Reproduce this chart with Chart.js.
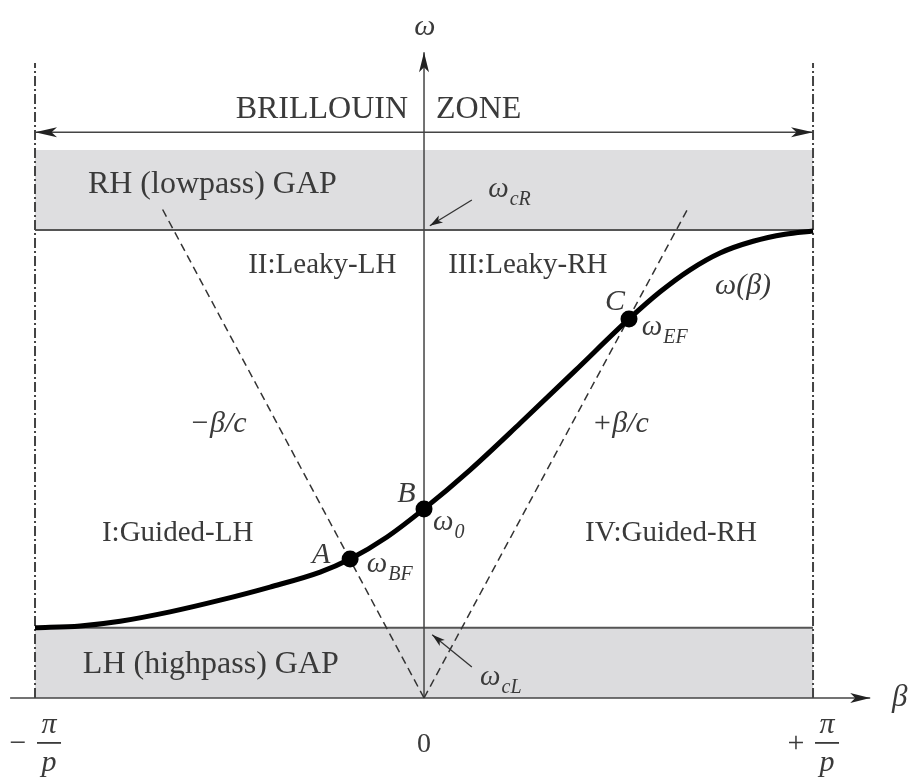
<!DOCTYPE html>
<html><head><meta charset="utf-8">
<script src="https://cdn.jsdelivr.net/npm/chart.js@4"></script>
<style>html,body{margin:0;padding:0;background:#fff}#wrap{width:913px;height:781px;position:relative}</style>
</head><body><div id="wrap"><canvas id="c" width="913" height="781"></canvas></div>
<script>
// beta in units of pi/p, omega normalised so that omega_cR = 1
const zoneEdges = [-1, 1];
const omegaCL = 0.15;
const omegaCR = 1.0;
const omegaGapTop = 1.171;
const curveBeta  = [-1, -0.884, -0.781, -0.653, -0.524, -0.396, -0.267, -0.19, -0.095, 0, 0.118, 0.247, 0.388, 0.527, 0.607, 0.684, 0.761, 0.846, 0.928, 1];
const curveOmega = [0.150, 0.154, 0.164, 0.184, 0.209, 0.237, 0.269, 0.297, 0.344, 0.404, 0.487, 0.587, 0.699, 0.810, 0.868, 0.915, 0.951, 0.976, 0.991, 0.998];
const pointNames = ['A', 'B', 'C'];
const pointBeta  = [-0.19, 0, 0.527];
const pointOmega = [0.297, 0.404, 0.810];
const lightLineBeta  = [-0.674, 0.679];   // ends of -beta/c and +beta/c
const lightLineOmega = [1.047, 1.047];
const tickValues = [-1, 0, 1];
const tickSigns  = ['−', '', '+'];
const tickText   = ['π/p', '0', 'π/p'];
const zoneLevel = 1.209;
const zoneTop = 1.357;
const betaAxis = [-1.064, 1.147];
const omegaAxisTop = 1.38;

const INK = '#333';
const TXT = '#3a3a3a';
const SERIF = '"Liberation Serif","DejaVu Serif",serif';

// annotations: [text, beta, omega, style, sub]
const notes = [
  ['ω', -0.025, 1.417, 'i30', ''],
  ['BRILLOUIN', -0.041, 1.239, 'r32R', ''],
  ['ZONE', 0.031, 1.239, 'r32', ''],
  ['RH (lowpass) GAP', -0.864, 1.079, 'r32', ''],
  ['ω', 0.165, 1.071, 'i29', 'cR'],
  ['II:Leaky-LH', -0.452, 0.908, 'r29', ''],
  ['III:Leaky-RH', 0.062, 0.908, 'r29', ''],
  ['C', 0.465, 0.829, 'i30', ''],
  ['ω', 0.560, 0.776, 'i29', 'EF'],
  ['ω(β)', 0.748, 0.863, 'i30', ''],
  ['+β/c', 0.432, 0.568, 'i30', ''],
  ['−β/c', -0.602, 0.568, 'i30', ''],
  ['B', -0.069, 0.419, 'i30', ''],
  ['ω', 0.023, 0.359, 'i29', '0'],
  ['A', -0.288, 0.288, 'i30', ''],
  ['ω', -0.147, 0.269, 'i29', 'BF'],
  ['I:Guided-LH', -0.828, 0.335, 'r29', ''],
  ['IV:Guided-RH', 0.414, 0.335, 'r29', ''],
  ['LH (highpass) GAP', -0.877, 0.053, 'r32', ''],
  ['ω', 0.144, 0.028, 'i29', 'cL'],
  ['β', 1.203, -0.017, 'i31', '']
];
// small pointer arrows [fromBeta, fromOmega, toBeta, toOmega]
const pointers = [[0.123, 1.064, 0.015, 1.009], [0.123, 0.066, 0.021, 0.135]];

function arrowHead(ctx, x1, y1, x2, y2, len, half) {
  const a = Math.atan2(y2 - y1, x2 - x1);
  ctx.save();
  ctx.translate(x2, y2); ctx.rotate(a);
  ctx.beginPath();
  ctx.moveTo(0, 0);
  ctx.lineTo(-len, -half);
  ctx.lineTo(-len * 0.75, 0);
  ctx.lineTo(-len, half);
  ctx.closePath();
  ctx.fillStyle = '#222';
  ctx.fill();
  ctx.restore();
}

const decor = {
  id: 'decor',
  afterDatasetsDraw(chart) {
    const ctx = chart.ctx, xs = chart.scales.x, ys = chart.scales.y;
    const X = v => xs.getPixelForValue(v), Y = v => ys.getPixelForValue(v);
    arrowHead(ctx, X(0), Y(0), X(betaAxis[1]), Y(0), 20, 5);
    arrowHead(ctx, X(0), Y(0), X(0), Y(omegaAxisTop), 20, 5);
    arrowHead(ctx, X(0), Y(zoneLevel), X(zoneEdges[0]), Y(zoneLevel), 22, 5);
    arrowHead(ctx, X(0), Y(zoneLevel), X(zoneEdges[1]), Y(zoneLevel), 22, 5);
    ctx.save();
    ctx.strokeStyle = INK; ctx.lineWidth = 1.3;
    pointers.forEach(p => {
      const x1 = X(p[0]), y1 = Y(p[1]), x2 = X(p[2]), y2 = Y(p[3]);
      ctx.beginPath(); ctx.moveTo(x1, y1); ctx.lineTo(x2, y2); ctx.stroke();
      arrowHead(ctx, x1, y1, x2, y2, 13, 4);
    });
    ctx.restore();
    ctx.save();
    ctx.fillStyle = TXT;
    ctx.textBaseline = 'alphabetic';
    notes.forEach(n => {
      const st = n[3];
      const ital = st[0] === 'i';
      const right = st.endsWith('R');
      const size = parseInt(st.slice(1));
      ctx.font = (ital ? 'italic ' : '') + size + 'px ' + SERIF;
      ctx.textAlign = right ? 'right' : 'left';
      const x = X(n[1]), y = Y(n[2]);
      ctx.fillText(n[0], x, y);
      if (n[4]) {
        const w = ctx.measureText(n[0]).width;
        ctx.font = 'italic ' + Math.round(size * 0.68) + 'px ' + SERIF;
        ctx.textAlign = 'left';
        ctx.fillText(n[4], x + w + 1, y + 8);
      }
    });
    tickValues.forEach((v, i) => {
      const x = X(v);
      if (tickText[i] === '0') {
        ctx.font = '28px ' + SERIF; ctx.textAlign = 'center';
        ctx.fillText('0', x, 752);
        return;
      }
      const fc = x + 14;
      const [num, den] = tickText[i].split('/');
      ctx.font = 'italic 30px ' + SERIF; ctx.textAlign = 'center';
      ctx.fillText(num, fc, 733);
      ctx.fillText(den, fc, 771);
      ctx.fillRect(fc - 12, 742, 24, 1.8);
      ctx.font = '30px ' + SERIF;
      ctx.fillText(tickSigns[i], x - 17, 752);
    });
    ctx.restore();
  }
};

const line = (data, extra) => Object.assign({
  data, showLine: true, pointRadius: 0, borderColor: INK, borderWidth: 1.5, fill: false
}, extra);

new Chart(document.getElementById('c'), {
  type: 'scatter',
  data: {
    datasets: [
      line(pointBeta.map((b, i) => ({x: b, y: pointOmega[i]})),
        {showLine: false, pointRadius: 8.5, pointBackgroundColor: '#000', pointBorderWidth: 0, order: 0}),
      line(curveBeta.map((b, i) => ({x: b, y: curveOmega[i]})),
        {borderColor: '#000', borderWidth: 5, cubicInterpolationMode: 'monotone', order: 1}),
      line([{x: 0, y: 0}, {x: lightLineBeta[0], y: lightLineOmega[0]}], {borderDash: [8, 5], order: 2}),
      line([{x: 0, y: 0}, {x: lightLineBeta[1], y: lightLineOmega[1]}], {borderDash: [8, 5], order: 2}),
      line([{x: betaAxis[0], y: 0}, {x: betaAxis[1], y: 0}], {borderColor: '#444', order: 3}),
      line([{x: 0, y: 0}, {x: 0, y: omegaAxisTop}], {borderColor: '#444', order: 3}),
      line([{x: zoneEdges[0], y: zoneLevel}, {x: zoneEdges[1], y: zoneLevel}], {borderColor: '#444', order: 3}),
      line([{x: zoneEdges[0], y: 0}, {x: zoneEdges[0], y: zoneTop}], {borderColor: '#444', borderWidth: 2, borderDash: [10, 3, 2, 3], order: 4}),
      line([{x: zoneEdges[1], y: 0}, {x: zoneEdges[1], y: zoneTop}], {borderColor: '#444', borderWidth: 2, borderDash: [10, 3, 2, 3], order: 4}),
      line([{x: zoneEdges[0], y: omegaCR}, {x: zoneEdges[1], y: omegaCR}],
        {borderColor: '#555', borderWidth: 2, fill: {value: omegaGapTop}, backgroundColor: '#dedee0', order: 5}),
      line([{x: zoneEdges[0], y: omegaCL}, {x: zoneEdges[1], y: omegaCL}],
        {borderColor: '#555', borderWidth: 2, fill: {value: 0}, backgroundColor: '#dcdcde', order: 5})
    ]
  },
  options: {
    responsive: false, animation: false, events: [],
    layout: {padding: 0, autoPadding: false},
    plugins: {legend: {display: false}, tooltip: {enabled: false}},
    scales: {
      x: {type: 'linear', display: false, min: -1.09, max: 1.257},
      y: {type: 'linear', display: false, min: -0.1774, max: 1.4915}
    }
  },
  plugins: [decor]
});
</script></body></html>
